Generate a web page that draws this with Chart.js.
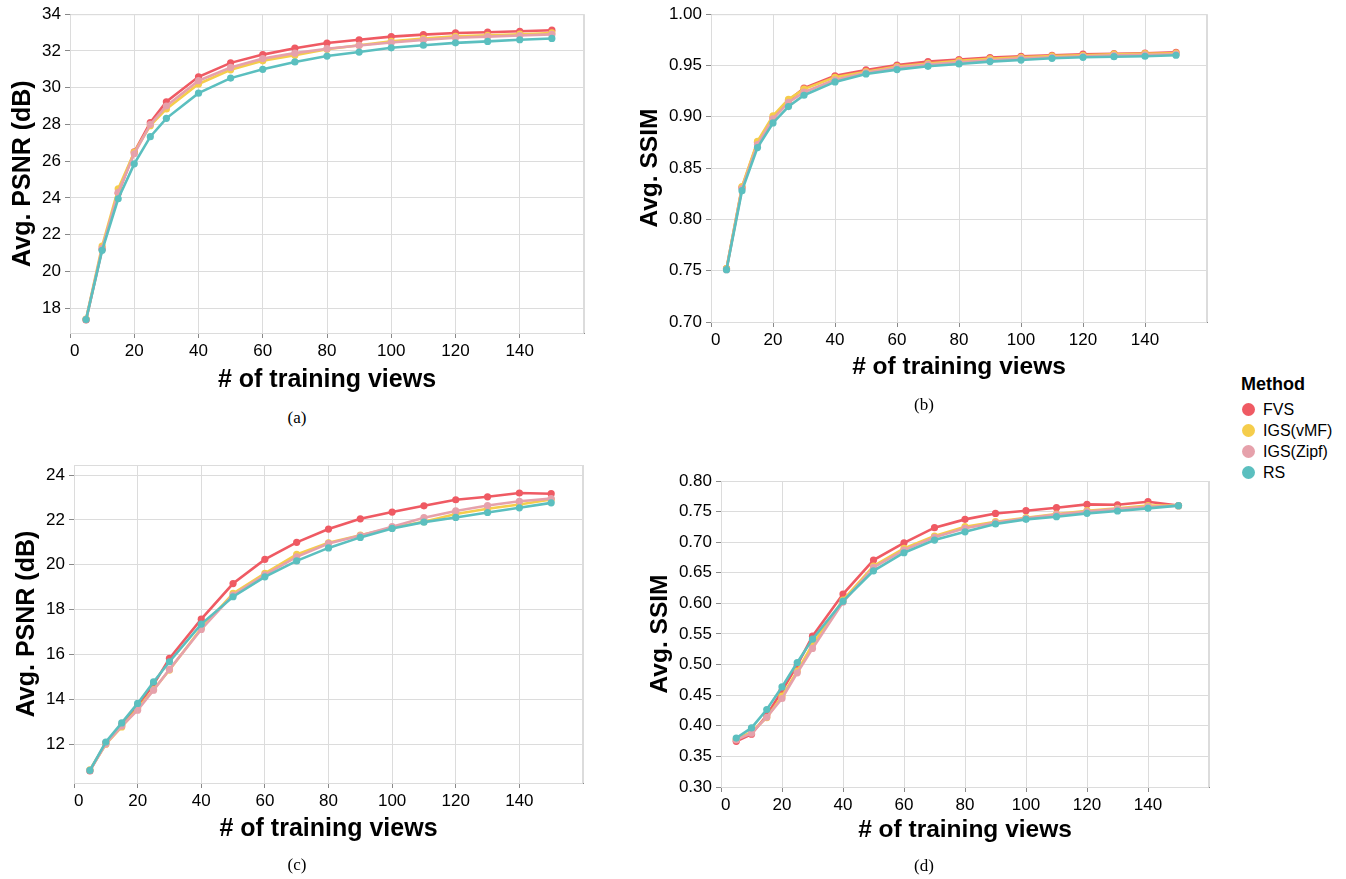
<!DOCTYPE html>
<html><head><meta charset="utf-8">
<script src="https://cdn.jsdelivr.net/npm/chart.js@4.4.0/dist/chart.umd.min.js"></script>
<style>
body{margin:0;background:#fff;width:1346px;height:879px;overflow:hidden;position:relative;font-family:"Liberation Sans",Arial,sans-serif;}
.box{position:absolute;}
.cap{position:absolute;font-family:"Liberation Serif","Times New Roman",serif;font-size:17px;transform:translate(-50%,-50%);color:#000;}
#legend{position:absolute;left:1241px;top:374px;color:#000;}
#legend .ttl{font-weight:bold;font-size:18px;margin-bottom:4px;}
#legend .it{display:flex;align-items:center;font-size:16px;height:21px;}
#legend .dot{width:13px;height:13px;border-radius:50%;margin-right:8px;margin-left:1px;}
</style></head><body>
<div class="box" style="left:0;top:0;width:600px;height:400px"><canvas id="ca"></canvas></div>
<div class="box" style="left:620px;top:0;width:607px;height:400px"><canvas id="cb"></canvas></div>
<div class="box" style="left:0;top:440px;width:600px;height:420px"><canvas id="cc"></canvas></div>
<div class="box" style="left:620px;top:440px;width:607px;height:420px"><canvas id="cd"></canvas></div>
<div class="cap" style="left:297px;top:418px">(a)</div>
<div class="cap" style="left:924px;top:405px">(b)</div>
<div class="cap" style="left:297px;top:865px">(c)</div>
<div class="cap" style="left:924px;top:866px">(d)</div>
<div id="legend"></div>
<script>
const methods = ["FVS", "IGS(vMF)", "IGS(Zipf)", "RS"];
const colors = ["#ef5a63", "#f5cd4b", "#e6a1ab", "#5bbfbf"];
const views = [5,10,15,20,25,30,40,50,60,70,80,90,100,110,120,130,140,150];
const xTicks = [0,20,40,60,80,100,120,140,160];
const xTickLabels = ["0","20","40","60","80","100","120","140",""];

// (a) Avg. PSNR (dB)
const psnrA_FVS  = [17.35,21.2,24.25,26.5,28.1,29.23,30.59,31.35,31.8,32.15,32.43,32.61,32.78,32.89,32.98,33.02,33.07,33.13];
const psnrA_vMF  = [17.4,21.37,24.49,26.48,27.93,28.84,30.2,30.97,31.46,31.77,32.09,32.31,32.52,32.67,32.8,32.85,32.91,32.98];
const psnrA_Zipf = [17.38,21.25,24.3,26.4,28.0,29.0,30.38,31.1,31.58,31.88,32.12,32.3,32.46,32.6,32.72,32.78,32.84,32.9];
const psnrA_RS   = [17.37,21.14,23.95,25.85,27.33,28.33,29.7,30.52,31.0,31.4,31.72,31.94,32.17,32.31,32.44,32.52,32.61,32.68];
const psnrATicks = [18,20,22,24,26,28,30,32,34];

// (b) Avg. SSIM
const ssimB_FVS  = [0.752,0.831,0.875,0.899,0.916,0.928,0.940,0.9457,0.9505,0.9538,0.9557,0.9577,0.959,0.960,0.961,0.9615,0.962,0.9628];
const ssimB_vMF  = [0.752,0.832,0.876,0.901,0.917,0.927,0.9385,0.944,0.949,0.952,0.9545,0.9565,0.958,0.9592,0.960,0.961,0.9615,0.962];
const ssimB_Zipf = [0.751,0.830,0.873,0.898,0.914,0.924,0.936,0.943,0.948,0.951,0.953,0.955,0.957,0.958,0.959,0.960,0.9605,0.961];
const ssimB_RS   = [0.751,0.828,0.870,0.894,0.910,0.921,0.934,0.9418,0.946,0.9492,0.9515,0.9538,0.9553,0.957,0.958,0.9586,0.959,0.960];
const ssimBTicks = [0.70,0.75,0.80,0.85,0.90,0.95,1.00];

// (c) Avg. PSNR (dB)
const psnrC_FVS  = [10.8,12.05,12.85,13.7,14.65,15.82,17.57,19.16,20.24,21.0,21.59,22.05,22.35,22.63,22.9,23.03,23.2,23.17];
const psnrC_vMF  = [10.85,11.99,12.76,13.58,14.43,15.3,17.16,18.72,19.61,20.46,20.98,21.32,21.65,21.92,22.26,22.5,22.69,22.91];
const psnrC_Zipf = [10.83,12.0,12.8,13.51,14.4,15.33,17.11,18.65,19.55,20.35,20.95,21.3,21.7,22.1,22.4,22.64,22.83,22.95];
const psnrC_RS   = [10.82,12.09,12.94,13.81,14.77,15.67,17.35,18.57,19.46,20.17,20.75,21.22,21.62,21.9,22.11,22.33,22.54,22.76];
const psnrCTicks = [12,14,16,18,20,22,24];

// (d) Avg. SSIM
const ssimD_FVS  = [0.3747,0.3862,0.4173,0.457,0.499,0.5465,0.6152,0.6708,0.699,0.7237,0.7373,0.747,0.7515,0.7564,0.7618,0.7612,0.7662,0.7597];
const ssimD_vMF  = [0.378,0.39,0.4135,0.4484,0.4892,0.5329,0.6054,0.661,0.690,0.710,0.7253,0.7335,0.740,0.746,0.7515,0.7553,0.7597,0.7597];
const ssimD_Zipf = [0.377,0.388,0.414,0.4446,0.4865,0.5264,0.602,0.6588,0.687,0.708,0.7227,0.732,0.739,0.745,0.750,0.7545,0.758,0.7597];
const ssimD_RS   = [0.380,0.3965,0.4266,0.4636,0.5034,0.5416,0.6037,0.6533,0.6828,0.7035,0.717,0.7297,0.7373,0.7417,0.7471,0.751,0.7553,0.7597];
const ssimDTicks = [0.30,0.35,0.40,0.45,0.50,0.55,0.60,0.65,0.70,0.75,0.80];

const framePlugin = {
  id:'frame',
  beforeDatasetsDraw(chart){
    const {ctx, chartArea:a} = chart;
    ctx.save(); ctx.strokeStyle='#dcdcdc'; ctx.lineWidth=1;
    ctx.strokeRect(a.left+0.5, a.top+0.5, a.right-a.left-1, a.bottom-a.top);
    ctx.restore();
  }
};

const FONT = '"Liberation Sans", Arial, sans-serif';

function makeChart(id, box, plot, series, yTicks, yMin, yMax, yTitle, yTitleX, xTitleY, titleSize, dec){
  const lh = titleSize*1.2;
  const yW = plot.l - box.left;
  const xH = xTitleY + lh/2 - plot.b;
  const padBottom = (box.top + box.h) - (plot.b + xH);
  const cv = document.getElementById(id);
  cv.width = box.w; cv.height = box.h;
  const datasets = series.map((vals,i)=>({
    label: methods[i],
    data: views.map((x,j)=>({x:x, y:vals[j]})),
    borderColor: colors[i], backgroundColor: colors[i],
    pointBackgroundColor: colors[i], pointBorderWidth:0,
    pointRadius:3.6, borderWidth:2.6, tension:0, order: 3-i
  }));
  new Chart(cv, {
    type:'line',
    data:{datasets},
    plugins:[framePlugin],
    options:{
      responsive:false, animation:false, devicePixelRatio:1,
      layout:{padding:{left:0, top:plot.t-box.top, right:(box.left+box.w)-plot.r, bottom:padBottom}},
      plugins:{legend:{display:false}, tooltip:{enabled:false}},
      scales:{
        x:{type:'linear', min:0, max:160,
          afterBuildTicks: ax=>{ ax.ticks = xTicks.map(v=>({value:v})); },
          afterFit: ax=>{ ax.height = xH; },
          grid:{color:'#dcdcdc', tickColor: c => (c.tick && c.tick.value===160) ? 'rgba(0,0,0,0)' : '#888', tickLength:5, lineWidth:1},
          border:{color:'#888', width:1},
          ticks:{color:'#000', font:{family:FONT, size:17}, padding:3, maxRotation:0, autoSkip:false, align:'inner',
            callback: v => xTickLabels[xTicks.indexOf(v)]},
          title:{display:true, text:'# of training views', color:'#000', padding:{top:0,bottom:0},
            font:{family:FONT, size:titleSize, weight:'bold', lineHeight:1.2}}
        },
        y:{type:'linear', min:yMin, max:yMax,
          afterBuildTicks: ax=>{ ax.ticks = yTicks.map(v=>({value:v})); },
          afterFit: ax=>{ ax.width = yW; },
          grid:{color:'#dcdcdc', tickColor:'#888', tickLength:5, lineWidth:1},
          border:{color:'#888', width:1},
          ticks:{color:'#000', font:{family:FONT, size:17}, padding:4, autoSkip:false,
            callback: v => dec ? Number(v).toFixed(dec) : String(v)},
          title:{display:true, text:yTitle, color:'#000', padding:{top:yTitleX - box.left - lh/2, bottom:0},
            font:{family:FONT, size:titleSize, weight:'bold', lineHeight:1.2}}
        }
      }
    }
  });
}

makeChart('ca', {left:0,top:0,w:600,h:400}, {l:70,t:13,r:584,b:333},
  [psnrA_FVS,psnrA_vMF,psnrA_Zipf,psnrA_RS], psnrATicks, 16.64, 34, 'Avg. PSNR (dB)', 23, 380, 25, 0);
makeChart('cb', {left:620,top:0,w:607,h:400}, {l:711,t:12,r:1207,b:322},
  [ssimB_FVS,ssimB_vMF,ssimB_Zipf,ssimB_RS], ssimBTicks, 0.70, 1.00, 'Avg. SSIM', 650, 367, 24.5, 2);
makeChart('cc', {left:0,top:440,w:600,h:420}, {l:74,t:465,r:583,b:783},
  [psnrC_FVS,psnrC_vMF,psnrC_Zipf,psnrC_RS], psnrCTicks, 10.26, 24.45, 'Avg. PSNR (dB)', 27, 829, 25, 0);
makeChart('cd', {left:620,top:440,w:607,h:420}, {l:721,t:481,r:1209,b:787},
  [ssimD_FVS,ssimD_vMF,ssimD_Zipf,ssimD_RS], ssimDTicks, 0.30, 0.80, 'Avg. SSIM', 660, 830, 24.5, 2);

const lg = document.getElementById('legend');
lg.innerHTML = '<div class="ttl">Method</div>' + methods.map((m,i)=>
  '<div class="it"><span class="dot" style="background:'+colors[i]+'"></span>'+m+'</div>').join('');
</script>
</body></html>
